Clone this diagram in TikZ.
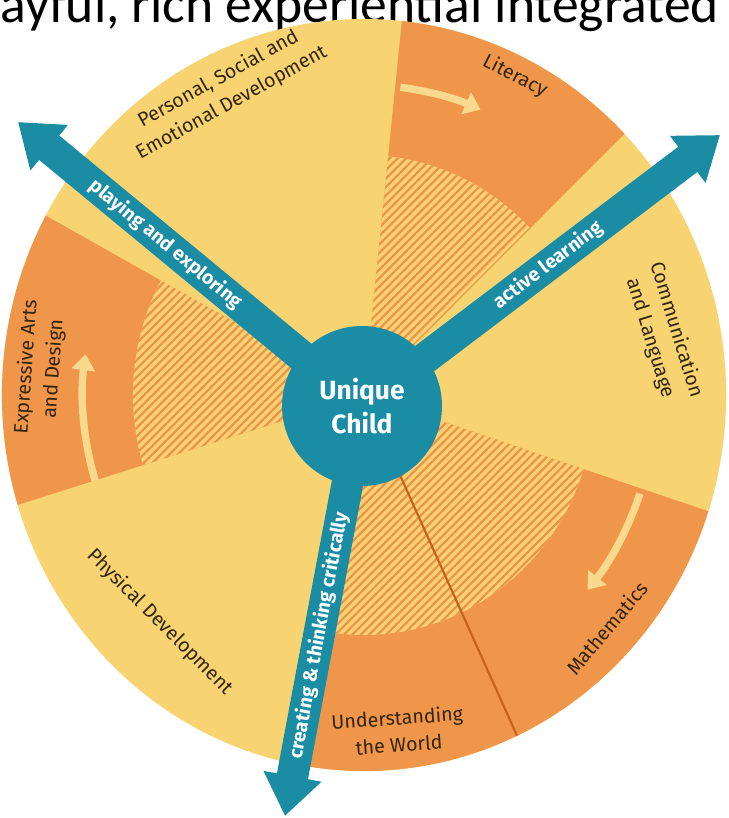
\documentclass[tikz,border=0pt]{standalone}
\usepackage{fontspec}
\setmainfont{Fira Sans}
\newfontfamily\titlefont{Carlito}
\usetikzlibrary{arrows.meta,patterns.meta}
\definecolor{wheelyellow}{HTML}{F8D372}
\definecolor{wheelorange}{HTML}{F0964B}
\definecolor{hatchorange}{HTML}{EC944C}
\definecolor{childteal}{HTML}{1A8DA4}
\definecolor{labelbrown}{HTML}{33250F}
\definecolor{divbrown}{HTML}{C4621C}
\definecolor{turncol}{HTML}{F9DA8C}
\tikzset{
  title/.style  ={font=\titlefont\fontsize{30.5}{33}\selectfont,inner sep=0pt},
  area/.style   ={font=\fontsize{11.2}{15.5}\selectfont,text=labelbrown,align=center,inner sep=0pt},
  child/.style  ={circle,fill=childteal,minimum size=3.2cm,inner sep=0pt,align=center,
                  text=white,font=\bfseries\fontsize{15}{19}\selectfont},
  way/.style    ={childteal,line width=18pt,-{Triangle[width=32pt,length=23pt]}},
  waytext/.style={sloped,text=white,font=\bfseries\fontsize{11}{12}\selectfont,inner sep=0pt},
  hatch/.style  ={pattern={Lines[angle=45,distance=3.4pt,line width=1.3pt]},pattern color=hatchorange},
  divider/.style={divbrown,line width=1.2pt},
  turn/.style   ={turncol,line width=4.2pt,-{Triangle[width=13pt,length=9pt]}},
}
\begin{document}
\begin{tikzpicture}[x=0.02cm,y=0.02cm]
  \useasboundingbox (0,0) rectangle (728,818);
  \clip (0,0) rectangle (728,818);
  % title line, cut by the top edge
  \node[title,anchor=base west] (title) at (0,795) {ayful, rich experiential integrated};
  % the wheel
  \begin{scope}[shift={(364,423)},xscale=0.963]
    \fill[wheelyellow] (0,0) circle[radius=376];
    \foreach \a/\b in {84/44,-18/-102,151.5/197}{
      \fill[wheelorange] (0,0) -- (\a:376) arc[start angle=\a,end angle=\b,radius=376] -- cycle;
      \fill[wheelyellow] (0,0) -- (\a:240) arc[start angle=\a,end angle=\b,radius=240] -- cycle;
      \fill[hatch] (0,0) -- (\a:240) arc[start angle=\a,end angle=\b,radius=240] -- cycle;
    }
    \draw[divider] (-65:80) -- (-65:376);
    % turning arrows
    \draw[turn] (83:310) arc[start angle=83,end angle=67,radius=310];
    \draw[turn] (-19:303) arc[start angle=-19,end angle=-40,radius=303];
    \draw[turn] (197:292) arc[start angle=197,end angle=172,radius=292];
  \end{scope}
  % the three ways of learning
  \coordinate (hub) at (362,412);
  \coordinate (tipL) at (18,696);
  \coordinate (tipR) at (720,683);
  \coordinate (tipB) at (285,2);
  \draw[way] (hub) -- node[waytext,pos=.57] (play) {playing and exploring} (tipL);
  \draw[way] (hub) -- node[waytext,pos=.52] (active) {active learning} (tipR);
  \draw[way] (hub) -- node[waytext,pos=.56] (create) {creating \& thinking critically} (tipB);
  \node[child] (child) at (hub) {Unique\\Child};
  % areas of learning
  \node[area,rotate=29]  (psed)  at (225,727) {Personal, Social and\\Emotional Development};
  \node[area,rotate=-27] (lit)   at (515,742) {Literacy};
  \node[area,rotate=-73] (comm)  at (663,484) {Communication\\and Language};
  \node[area,rotate=50]  (maths) at (607,190) {Mathematics};
  \node[area,rotate=4]   (world) at (398,87)  {Understanding\\the World};
  \node[area,rotate=-45] (phys)  at (160,196) {Physical Development};
  \node[area,rotate=86]  (arts)  at (40,450)  {Expressive Arts\\and Design};
\end{tikzpicture}
\end{document}
